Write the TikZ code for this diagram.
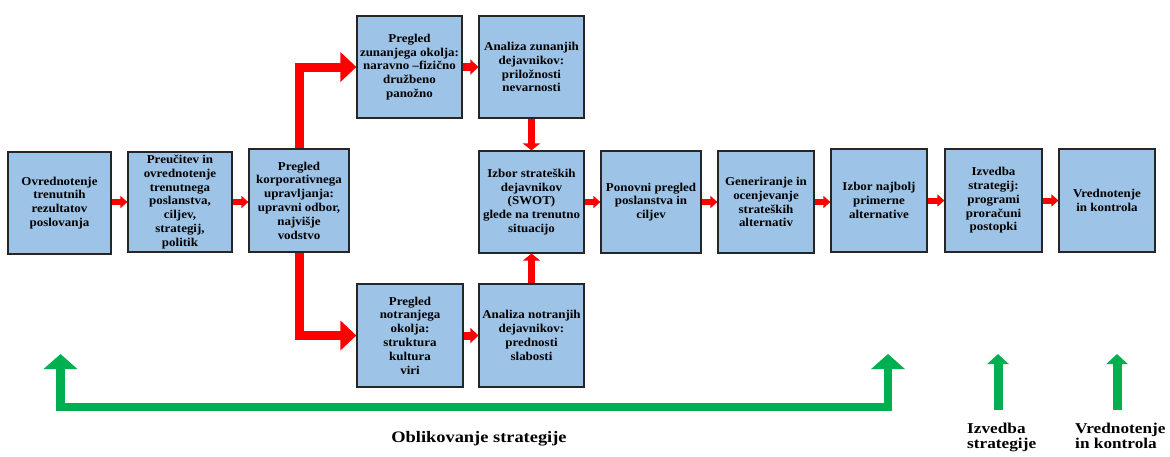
\documentclass[tikz,border=0pt]{standalone}
\usepackage{fontspec}
\setmainfont{Liberation Serif}
\newfontfamily\boxfont{Liberation Serif}[FakeStretch=1.08]
\newfontfamily\labfont{Liberation Serif}[FakeStretch=1.15]
\usetikzlibrary{arrows.meta}
\definecolor{boxblue}{RGB}{157,195,230}
\definecolor{boxline}{RGB}{38,38,38}
\definecolor{arrred}{RGB}{255,0,0}
\definecolor{arrgreen}{RGB}{0,176,80}
\begin{document}
\begin{tikzpicture}[x=1pt,y=-1pt,
  stepbox/.style={draw=boxline, line width=1.2pt, fill=boxblue, rectangle, inner sep=1pt, align=center,
    font=\boxfont\bfseries\fontsize{12}{13.8}\selectfont, text=black},
  smallred/.style={draw=arrred, line width=6pt, -{Triangle[width=12pt,length=7pt]}},
  midred/.style={draw=arrred, line width=8pt, -{Triangle[width=15pt,length=8pt]}},
  vred/.style={draw=arrred, line width=7pt, -{Triangle[width=17pt,length=7pt]}},
  bigred/.style={draw=arrred, line width=9pt, line join=miter, -{Triangle[width=29pt,length=16pt]}},
  biggreen/.style={draw=arrgreen, line width=8.5pt, line join=miter,
    {Triangle[width=33pt,length=15pt]}-{Triangle[width=33pt,length=15pt]}},
  smallgreen/.style={draw=arrgreen, line width=9pt, -{Triangle[width=21pt,length=10pt]}},
  biglab/.style={inner sep=0pt, font=\labfont\bfseries\fontsize{16}{16}\selectfont},
  sidelab/.style={inner sep=0pt, align=left, anchor=north west, font=\labfont\bfseries\fontsize{15}{14.5}\selectfont}
]
\fill[white] (0,0) rectangle (1170,456);
\useasboundingbox (0,0) rectangle (1170,456);

% boxes
\node[stepbox, minimum width=103pt, minimum height=102pt] (b1) at (59.5,203) {Ovrednotenje\\trenutnih\\rezultatov\\poslovanja};
\node[stepbox, minimum width=104pt, minimum height=100pt] (b2) at (180,202) {Preučitev in\\ovrednotenje\\trenutnega\\poslanstva,\\ciljev,\\strategij,\\politik};
\node[stepbox, minimum width=100pt, minimum height=103pt] (b3) at (299,200.5) {Pregled\\korporativnega\\upravljanja:\\upravni odbor,\\najvišje\\vodstvo};
\node[stepbox, minimum width=105pt, minimum height=102pt] (zo) at (409.5,67) {Pregled\\zunanjega okolja:\\naravno –fizično\\družbeno\\panožno};
\node[stepbox, minimum width=105pt, minimum height=102pt] (az) at (531.5,67) {Analiza zunanjih\\dejavnikov:\\priložnosti\\nevarnosti};
\node[stepbox, minimum width=106pt, minimum height=103pt] (no) at (410,335.5) {Pregled\\notranjega\\okolja:\\struktura\\kultura\\viri};
\node[stepbox, minimum width=105pt, minimum height=103pt] (an) at (531.5,335.5) {Analiza notranjih\\dejavnikov:\\prednosti\\slabosti};
\node[stepbox, minimum width=105pt, minimum height=102pt] (sw) at (531.5,202) {Izbor strateških\\dejavnikov\\(SWOT)\\glede na trenutno\\situacijo};
\node[stepbox, minimum width=100pt, minimum height=102pt] (po) at (651,202) {Ponovni pregled\\poslanstva in\\ciljev};
\node[stepbox, minimum width=96pt, minimum height=102pt] (ge) at (766,202) {Generiranje in\\ocenjevanje\\strateških\\alternativ};
\node[stepbox, minimum width=96pt, minimum height=103pt] (ib) at (879,200.5) {Izbor najbolj\\primerne\\alternative};
\node[stepbox, minimum width=97pt, minimum height=103pt] (iz) at (993.5,200.5) {Izvedba\\strategij:\\programi\\proračuni\\postopki};
\node[stepbox, minimum width=96pt, minimum height=103pt] (vr) at (1107,200.5) {Vrednotenje\\in kontrola};

% red connectors
\draw[smallred] (b1.east |- b2.west) -- (b2.west);
\draw[smallred] (b2.east) -- (b2.east -| b3.west);
\draw[smallred] (sw.east) -- (po.west);
\draw[smallred] (po.east) -- (ge.west);
\draw[smallred] (ge.east) -- (ge.east -| ib.west);
\draw[smallred] (ib.east) -- (iz.west);
\draw[smallred] (iz.east) -- (vr.west);
\draw[midred] (zo.east) -- (az.west);
\draw[midred] (no.east) -- (an.west);
\draw[vred] (az.south) -- (sw.north);
\draw[vred] (an.north) -- (sw.south);
\draw[bigred] (b3.north) -- (b3.north |- zo.west) -- (zo.west);
\draw[bigred] (b3.south) -- (b3.south |- no.west) -- (no.west);

% green arrows
\coordinate (gl) at (60.5,354);
\coordinate (gr) at (888,354);
\coordinate (gb) at (0,407);
\draw[biggreen] (gl) -- (gl |- gb) -- (gr |- gb) -- (gr);
\coordinate (ia) at (998,354);
\coordinate (ib0) at (998,410);
\draw[smallgreen] (ib0) -- (ia);
\coordinate (va) at (1117,354);
\coordinate (vb0) at (1117,410);
\draw[smallgreen] (vb0) -- (va);

% labels
\node[biglab, anchor=base] (lform) at (479,442) {Oblikovanje strategije};
\node[sidelab] (limpl) at (967,423) {Izvedba\\strategije};
\node[sidelab] (lctrl) at (1075,423) {Vrednotenje\\in kontrola};
\end{tikzpicture}
\end{document}
